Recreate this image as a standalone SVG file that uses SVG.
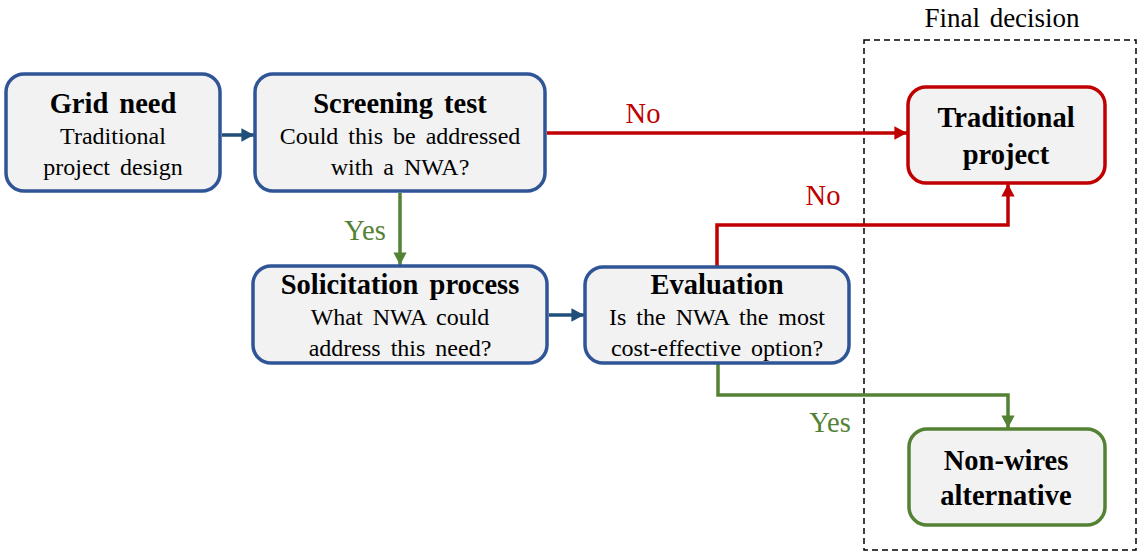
<svg xmlns="http://www.w3.org/2000/svg" width="1137" height="555" viewBox="0 0 1137 555">
  <style>
    .box { fill: #F2F2F2; stroke-width: 3.5; }
    .blue { stroke: #2F5597; }
    .red { stroke: #C00000; }
    .green { stroke: #548235; }
    text { font-family: "Liberation Serif", "Times New Roman", serif; text-anchor: middle; fill: #000; }
    .title { font-size: 28.5px; font-weight: bold; word-spacing: 4px; }
    .body { font-size: 24px; word-spacing: 4px; }
    .lbl { font-size: 28.5px; }
    .conn { fill: none; stroke-width: 3.5; }
  </style>
  <defs>
    <marker id="ahBlue" markerWidth="4" markerHeight="4" refX="3.6" refY="1.9" orient="auto" markerUnits="strokeWidth">
      <path d="M0,0 L3.6,1.9 L0,3.8 z" fill="#1F4E79"/>
    </marker>
    <marker id="ahRed" markerWidth="4" markerHeight="4" refX="3.6" refY="1.9" orient="auto" markerUnits="strokeWidth">
      <path d="M0,0 L3.6,1.9 L0,3.8 z" fill="#C00000"/>
    </marker>
    <marker id="ahGreen" markerWidth="4" markerHeight="4" refX="3.6" refY="1.9" orient="auto" markerUnits="strokeWidth">
      <path d="M0,0 L3.6,1.9 L0,3.8 z" fill="#548235"/>
    </marker>
  </defs>

  <!-- final decision frame -->
  <g id="final-decision">
    <rect x="864" y="40" width="272" height="510" fill="none" stroke="#000" stroke-width="1.5" stroke-dasharray="6,4"/>
    <text x="1002" y="27" style="font-size:27px; word-spacing:3px">Final decision</text>
  </g>

  <!-- connectors -->
  <g id="connectors">
    <line class="conn" x1="222" y1="135" x2="254" y2="135" stroke="#1F4E79" marker-end="url(#ahBlue)"/>
    <line class="conn" x1="547" y1="133" x2="907" y2="133" stroke="#C00000" marker-end="url(#ahRed)"/>
    <text class="lbl" x="643" y="123" style="fill:#C00000">No</text>
    <line class="conn" x1="400" y1="193" x2="400" y2="265" stroke="#548235" marker-end="url(#ahGreen)"/>
    <text class="lbl" x="365" y="240" style="fill:#548235">Yes</text>
    <line class="conn" x1="549" y1="315" x2="584" y2="315" stroke="#1F4E79" marker-end="url(#ahBlue)"/>
    <polyline class="conn" points="717,266 717,225 1008,225 1008,184" stroke="#C00000" marker-end="url(#ahRed)"/>
    <text class="lbl" x="823" y="205" style="fill:#C00000">No</text>
    <polyline class="conn" points="718,364 718,395 1008,395 1008,428" stroke="#548235" marker-end="url(#ahGreen)"/>
    <text class="lbl" x="830" y="432" style="fill:#548235">Yes</text>
  </g>

  <g id="grid-need">
    <rect class="box blue" x="6" y="74" width="214" height="117" rx="18"/>
    <text class="title" x="113" y="113">Grid need</text>
    <text class="body" x="113" y="144">Traditional</text>
    <text class="body" x="113" y="175">project design</text>
  </g>

  <g id="screening-test">
    <rect class="box blue" x="255" y="74" width="290" height="117" rx="18"/>
    <text class="title" x="400" y="113">Screening test</text>
    <text class="body" x="400" y="144">Could this be addressed</text>
    <text class="body" x="400" y="175">with a NWA?</text>
  </g>

  <g id="solicitation-process">
    <rect class="box blue" x="253" y="266" width="294" height="97" rx="18"/>
    <text class="title" x="400" y="294">Solicitation process</text>
    <text class="body" x="400" y="325">What NWA could</text>
    <text class="body" x="400" y="356">address this need?</text>
  </g>

  <g id="evaluation">
    <rect class="box blue" x="585" y="267" width="264" height="96" rx="18"/>
    <text class="title" x="717" y="294">Evaluation</text>
    <text class="body" x="717" y="325">Is the NWA the most</text>
    <text class="body" x="717" y="356">cost-effective option?</text>
  </g>

  <g id="traditional-project">
    <rect class="box red" x="908" y="87" width="197" height="96" rx="18"/>
    <text class="title" x="1006" y="127">Traditional</text>
    <text class="title" x="1006" y="164">project</text>
  </g>

  <g id="non-wires-alternative">
    <rect class="box green" x="909" y="429" width="196" height="96" rx="18"/>
    <text class="title" x="1006" y="470">Non-wires</text>
    <text class="title" x="1006" y="505">alternative</text>
  </g>
</svg>
